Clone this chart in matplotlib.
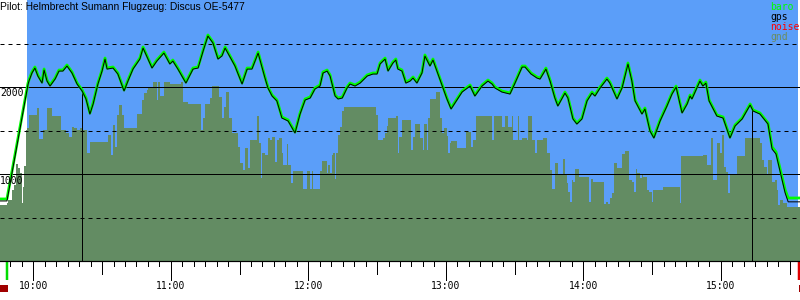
import numpy as np
import matplotlib
matplotlib.use("Agg")
import matplotlib.pyplot as plt
from matplotlib.patches import Rectangle

# ---------------- data (time = minutes after 10:00, altitude in m) ----------------
title = "Pilot: Helmbrecht Sumann Flugzeug: Discus OE-5477"

baro_t = [-14.5, -11.5, -2.3, -1.9, -0.6, 0.7, 2.0, 3.8, 4.7, 6.0,
          7.3, 9.5, 11.2, 12.9, 14.7, 16.9, 19.1, 21.3, 23.0, 24.7,
          26.1, 28.2, 30.0, 31.3, 32.2, 34.8, 36.9, 39.6, 41.3, 43.5,
          46.5, 47.9, 51.8, 53.9, 57.0, 59.6, 60.9, 63.1, 66.6, 69.7,
          71.9, 74.1, 76.2, 78.4, 80.6, 82.3, 83.7, 88.0, 91.1, 93.3,
          95.4, 98.1, 101.1, 102.4, 104.2, 106.3, 108.5, 111.2, 114.2, 116.4,
          118.6, 120.8, 122.9, 125.1, 126.4, 128.2, 129.5, 131.7, 133.0, 134.8,
          136.9, 138.2, 140.4, 142.6, 145.7, 148.2, 150.0, 151.3, 153.5, 154.8,
          156.9, 158.2, 159.1, 160.9, 162.6, 164.4, 165.7, 167.4, 169.6, 170.9,
          173.1, 174.4, 176.6, 178.8, 180.5, 182.3, 184.0, 187.1, 190.6, 192.7,
          195.8, 198.4, 200.2, 201.5, 204.5, 208.0, 210.2, 213.3, 214.6, 217.2,
          219.8, 221.1, 223.7, 225.5, 227.6, 228.9, 232.0, 233.3, 235.5, 237.2,
          239.4, 241.6, 243.8, 245.1, 247.3, 250.3, 251.6, 254.7, 256.9, 259.5,
          261.2, 262.6, 265.6, 266.9, 269.1, 270.8, 273.5, 276.5, 278.7, 280.5,
          283.1, 285.3, 286.6, 287.4, 290.9, 292.2, 293.5, 294.9, 298.3, 301.0,
          304.0, 306.2, 309.3, 312.8, 314.1, 317.1, 320.6, 322.4, 324.1, 326.3,
          328.1, 329.4, 334.6]

baro_alt = [713, 713, 2046, 2080, 2172, 2230, 2138, 2057, 2207, 2080,
            2023, 2103, 2195, 2195, 2253, 2172, 2046, 1966, 1874, 1701,
            1816, 2046, 2195, 2333, 2218, 2230, 2161, 1966, 2080, 2218,
            2333, 2460, 2230, 2310, 2402, 2276, 2310, 2218, 2057, 2218,
            2230, 2425, 2598, 2517, 2333, 2368, 2460, 2253, 2046, 2218,
            2218, 2402, 2115, 2000, 1908, 1851, 1655, 1621, 1483, 1701,
            1862, 1885, 1989, 2023, 2172, 2195, 2138, 1908, 1874, 1885,
            2000, 2046, 2023, 2057, 2138, 2161, 2161, 2276, 2333, 2195,
            2287, 2322, 2218, 2195, 2057, 2080, 2115, 2057, 2172, 2368,
            2253, 2322, 2161, 2000, 1874, 1759, 1828, 1954, 2023, 1908,
            2023, 2080, 2046, 2000, 1954, 1931, 2057, 2241, 2241, 2161,
            2115, 2103, 2218, 2080, 1885, 1793, 1942, 1885, 1644, 1586,
            1644, 1851, 1942, 1908, 2000, 2103, 2057, 1874, 2000, 2276,
            2080, 1851, 1701, 1759, 1506, 1425, 1621, 1793, 1931, 2011,
            1713, 1816, 1908, 1874, 2080, 2023, 2057, 1851, 1678, 1655,
            1425, 1563, 1644, 1805, 1736, 1701, 1586, 1310, 1253, 1011,
            816, 724, 724]

gps_alt = [690, 690, 2030, 2068, 2160, 2218, 2126, 2045, 2195, 2068,
           2011, 2091, 2183, 2183, 2241, 2160, 2034, 1954, 1862, 1689,
           1804, 2034, 2183, 2321, 2206, 2218, 2149, 1954, 2068, 2206,
           2321, 2448, 2218, 2298, 2390, 2264, 2298, 2206, 2045, 2206,
           2218, 2413, 2586, 2505, 2321, 2356, 2448, 2241, 2034, 2206,
           2206, 2390, 2103, 1988, 1896, 1839, 1643, 1609, 1471, 1689,
           1850, 1873, 1977, 2011, 2160, 2183, 2126, 1896, 1862, 1873,
           1988, 2034, 2011, 2045, 2126, 2149, 2149, 2264, 2321, 2183,
           2275, 2310, 2206, 2183, 2045, 2068, 2103, 2045, 2160, 2356,
           2241, 2310, 2149, 1988, 1862, 1747, 1816, 1942, 2011, 1896,
           2011, 2068, 2034, 1988, 1942, 1919, 2045, 2229, 2229, 2149,
           2103, 2091, 2206, 2068, 1873, 1781, 1930, 1873, 1632, 1574,
           1632, 1839, 1930, 1896, 1988, 2091, 2045, 1862, 1988, 2264,
           2068, 1839, 1689, 1747, 1494, 1413, 1609, 1781, 1919, 1999,
           1701, 1804, 1896, 1862, 2068, 2011, 2045, 1839, 1666, 1643,
           1413, 1551, 1632, 1793, 1724, 1689, 1574, 1285, 1230, 985,
           780, 680, 680]

gnd_t = [-14.5, -11.6, -10.9, -9.4, -8.4, -7.5, -6.5, -5.8, -5.1, -4.6,
         -4.1, -3.2, -2.6, -1.7, 1.8, 2.6, 4.4, 5.8, 8.0, 12.1,
         14.3, 15.7, 16.7, 17.8, 19.2, 20.4, 21.5, 23.6, 24.7, 32.7,
         33.8, 34.6, 35.7, 36.7, 37.5, 38.6, 39.6, 45.1, 47.3, 48.5,
         49.5, 50.2, 52.4, 53.8, 54.6, 55.3, 57.2, 59.7, 64.5, 65.5,
         67.4, 73.2, 74.2, 74.9, 77.1, 78.1, 81.0, 82.5, 83.4, 84.0,
         85.4, 86.6, 89.2, 90.2, 91.7, 92.4, 93.5, 94.6, 97.5, 98.5,
         99.4, 100.0, 101.1, 102.6, 103.3, 104.0, 105.5, 106.2, 107.2, 108.4,
         109.1, 110.6, 111.3, 112.5, 113.2, 113.5, 117.8, 119.6, 120.7, 121.5,
         122.2, 125.1, 125.8, 128.0, 128.7, 129.5, 130.2, 130.9, 131.7, 132.1,
         133.1, 133.8, 134.6, 135.6, 149.5, 150.3, 152.7, 153.6, 154.2, 154.9,
         158.3, 159.0, 159.7, 160.7, 164.8, 165.5, 166.6, 168.7, 170.2, 170.6,
         171.7, 172.4, 173.1, 175.6, 177.5, 178.2, 179.4, 180.4, 181.1, 181.8,
         182.3, 184.7, 188.8, 191.0, 192.0, 193.0, 200.3, 201.2, 204.4, 205.8,
         207.3, 208.7, 209.5, 211.7, 212.1, 213.1, 215.3, 216.0, 217.5, 218.9,
         219.7, 222.6, 224.3, 225.5, 226.5, 227.6, 229.1, 231.3, 232.0, 232.7,
         233.5, 234.2, 234.9, 235.6, 236.4, 238.3, 242.6, 243.2, 244.1, 249.0,
         249.8, 250.6, 251.6, 252.4, 253.4, 254.6, 256.7, 258.2, 260.1, 261.1,
         262.1, 262.8, 263.6, 264.7, 265.5, 266.2, 267.9, 268.8, 269.8, 270.6,
         274.6, 282.2, 282.6, 292.4, 293.8, 295.6, 296.7, 298.5, 299.7, 300.4,
         301.4, 302.3, 303.3, 304.0, 306.9, 310.6, 313.9, 317.1, 317.8, 318.8,
         320.0, 320.7, 322.2, 323.6, 324.4, 325.1, 325.8, 327.3, 328.7, 334.6]

gnd_alt = [644, 663, 701, 816, 874, 1115, 1065, 1008, 670, 854,
           1092, 1506, 1525, 1678, 1755, 1398, 1506, 1755, 1667, 1506,
           1467, 1429, 1544, 1525, 1506, 1525, 1506, 1238, 1372, 1448,
           1218, 1563, 1314, 1678, 1793, 1678, 1525, 1690, 1851, 1927,
           1966, 1985, 2061, 1851, 2061, 1897, 2061, 2034, 2061, 1831,
           1805, 1506, 1640, 1805, 1870, 2011, 1889, 1640, 1774, 1946,
           1640, 1467, 1314, 1123, 1046, 1295, 1065, 1391, 1667, 1352,
           950, 1238, 1218, 1410, 1391, 1429, 1142, 1391, 1410, 1238,
           1103, 1345, 1103, 893, 785, 1034, 828, 1034, 828, 1034,
           828, 1034, 1149, 1008, 1103, 1008, 1218, 1238, 939, 1238,
           1448, 1544, 1724, 1774, 1678, 1391, 1410, 1467, 1552, 1640,
           1667, 1238, 1429, 1621, 1276, 1429, 1575, 1410, 1276, 1575,
           1276, 1640, 1862, 1943, 1640, 1467, 1525, 1437, 1238, 1352,
           1379, 1303, 1483, 1314, 1391, 1667, 1391, 1667, 1544, 1667,
           1544, 1667, 1391, 1667, 1391, 1414, 1391, 1667, 1391, 1238,
           1391, 1418, 1238, 1046, 828, 1123, 1000, 1169, 1000, 893,
           797, 682, 931, 912, 1057, 969, 682, 939, 912, 655,
           682, 655, 720, 778, 1123, 1073, 1230, 1264, 931, 912,
           797, 1054, 1008, 950, 988, 969, 816, 797, 682, 816,
           847, 663, 1207, 1218, 1103, 1410, 931, 1360, 1238, 1448,
           1084, 1027, 778, 1000, 1207, 1410, 1418, 1352, 1161, 1084,
           988, 1161, 912, 931, 816, 644, 701, 663, 625, 625]

hour_labels = ["10:00", "11:00", "12:00", "13:00", "14:00", "15:00"]
hour_ticks = [0, 60, 120, 180, 240, 300]
y_labels = [1000, 2000]
task_start, task_end = 21.3, 313.6
takeoff_t, landing_t = -11.5, 334.2
sky_start, sky_end = -2.75, 333.7
legend_items = [("baro", "#00ff00"), ("gps", "#000000"), ("noise", "#ff0000"), ("gnd", "#6a8c62")]

# ---------------- figure ----------------
W, H = 800, 300
fig = plt.figure(figsize=(8, 3), dpi=100)
ax = fig.add_axes([0, 39 / H, 1, 261 / H])
xmin, xmax = -14.53, 334.56
ax.set_xlim(xmin, xmax)
ax.set_ylim(0, 3000)
ax.set_facecolor("white")
for s in ax.spines.values():
    s.set_visible(False)
ax.set_xticks([]); ax.set_yticks([])

px = 0.72  # 1 px in points
sky = "#5b9ef9"
gnd_color = "#638c63"

ax.axvspan(sky_start, sky_end, color=sky, lw=0, zorder=0)
ax.fill_between(gnd_t, gnd_alt, 0, step="post", color=gnd_color, lw=0, zorder=1)

# grid lines
for v in [1000, 2000]:
    ax.axhline(v, color="black", lw=1 * px, zorder=2)
for v in [500, 1500, 2500]:
    ax.axhline(v, color="black", lw=1 * px, ls=(0, (4, 4)), zorder=2)

# task start / finish lines
for tt in (task_start, task_end):
    top = np.interp(tt, baro_t, gps_alt)
    ax.vlines(tt, 0, top, color="black", lw=1 * px, zorder=3)

# lines
ax.plot(baro_t, baro_alt, color="#00ff00", lw=2.8 * px, zorder=4)
ax.plot(baro_t, gps_alt, color="black", lw=1.0 * px, zorder=5)

# bottom axis
ax.axhline(0, color="black", lw=1.2 * px, zorder=6, clip_on=False)
xt = ax.get_xaxis_transform()
minor = np.arange(-10, 331, 5)
for m in minor:
    if m % 60 == 0:
        L = 19
    elif m % 30 == 0:
        L = 13
    else:
        L = 5
    ax.plot([m, m], [0, -L / 261], transform=xt, color="black", lw=1 * px, clip_on=False)

mono = "DejaVu Sans Mono"
for t, lab in zip(hour_ticks, hour_labels):
    ax.text(t, -25 / 261, lab, transform=xt, ha="center", va="center",
            fontsize=7.0, family=mono, color="black")

# y labels
for v in y_labels:
    ax.annotate(str(v), xy=(0, v), xycoords=("axes fraction", "data"),
                xytext=(0, -6.5 * px), textcoords="offset points",
                ha="left", va="center", fontsize=7.0, family=mono, zorder=7)

# takeoff / landing markers
ax.plot([takeoff_t, takeoff_t], [-1 / 261, -19 / 261], transform=xt, color="#00dd00",
        lw=2.5 * px, clip_on=False, solid_capstyle="butt")
ax.plot([landing_t, landing_t], [-1 / 261, -19 / 261], transform=xt, color="#e00000",
        lw=2.5 * px, clip_on=False, solid_capstyle="butt")
fig.patches.append(Rectangle((0 / W, (H - 292) / H), 8 / W, 7 / H,
                             transform=fig.transFigure, color="#a00000", lw=0))
fig.patches.append(Rectangle((799 / W, (H - 292) / H), 8 / W, 7 / H,
                             transform=fig.transFigure, color="#a00000", lw=0))

# title
fig.text(0, 1 - 1.5 / H, title, ha="left", va="top", fontsize=7.4,
         family="Liberation Sans", color="black")

# legend
for i, (name, col) in enumerate(legend_items):
    fig.text(770 / W, 1 - (7 + 10 * i) / H, name, ha="left", va="center",
             fontsize=7.0, family=mono, color=col)

fig.savefig("out.png", dpi=100)
